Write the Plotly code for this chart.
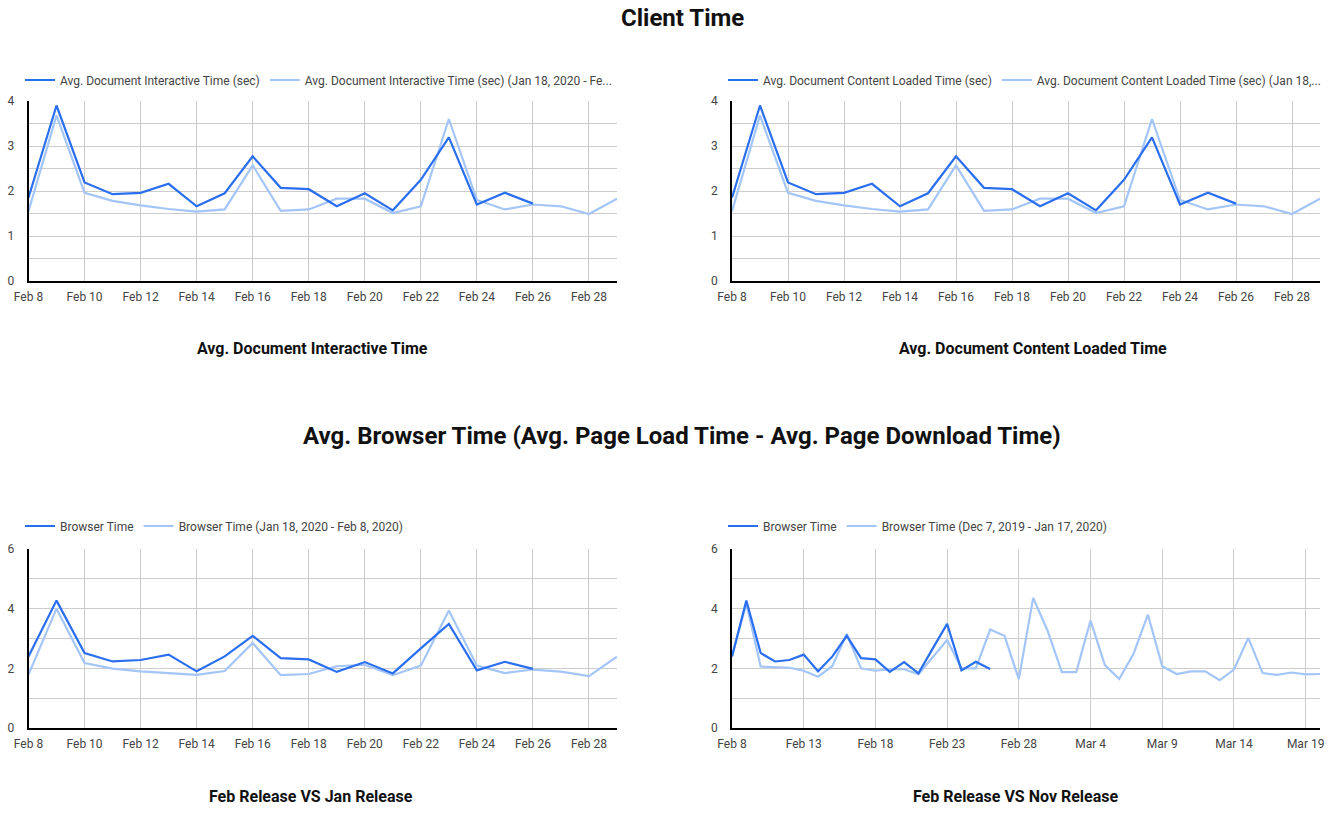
import pandas as pd
import plotly.graph_objects as go

# ---------------- data ----------------
start_date = "2020-02-08"

interactive_cur = [1.85, 3.90, 2.19, 1.93, 1.96, 2.16, 1.66, 1.95, 2.77, 2.07, 2.04,
                   1.66, 1.95, 1.57, 2.25, 3.19, 1.70, 1.96, 1.72]
interactive_prev = [1.55, 3.68, 1.96, 1.78, 1.68, 1.60, 1.54, 1.59, 2.57, 1.56, 1.59,
                    1.83, 1.83, 1.51, 1.66, 3.60, 1.80, 1.59, 1.70, 1.66, 1.49, 1.83]

dcl_cur = [1.85, 3.90, 2.19, 1.93, 1.96, 2.16, 1.66, 1.95, 2.77, 2.07, 2.04,
           1.66, 1.95, 1.57, 2.25, 3.19, 1.70, 1.96, 1.72]
dcl_prev = [1.55, 3.68, 1.96, 1.78, 1.68, 1.60, 1.54, 1.59, 2.57, 1.56, 1.59,
            1.83, 1.83, 1.51, 1.66, 3.60, 1.80, 1.59, 1.70, 1.66, 1.49, 1.83]

browser_cur = [2.40, 4.27, 2.51, 2.23, 2.28, 2.46, 1.90, 2.40, 3.09, 2.34, 2.30,
               1.88, 2.21, 1.83, 2.67, 3.49, 1.93, 2.22, 1.98]
browser_jan = [1.79, 4.00, 2.18, 1.99, 1.90, 1.84, 1.78, 1.91, 2.85, 1.77, 1.81,
               2.07, 2.12, 1.77, 2.09, 3.94, 2.09, 1.84, 1.96, 1.89, 1.74, 2.39]
browser_nov = [2.40, 4.17, 2.06, 2.03, 2.02, 1.92, 1.72, 2.08, 3.15, 2.00, 1.92,
               1.97, 1.97, 1.80, 2.39, 2.95, 2.00, 2.00, 3.30, 3.09, 1.64, 4.36,
               3.27, 1.87, 1.87, 3.60, 2.11, 1.64, 2.49, 3.80, 2.07, 1.81, 1.90,
               1.90, 1.60, 1.96, 3.02, 1.84, 1.78, 1.86, 1.80, 1.81]

legend_names = {
    1: ["Avg. Document Interactive Time (sec)",
        "Avg. Document Interactive Time (sec) (Jan 18, 2020 - Fe..."],
    2: ["Avg. Document Content Loaded Time (sec)",
        "Avg. Document Content Loaded Time (sec) (Jan 18,..."],
    3: ["Browser Time", "Browser Time (Jan 18, 2020 - Feb 8, 2020)"],
    4: ["Browser Time", "Browser Time (Dec 7, 2019 - Jan 17, 2020)"],
}

def dates(vals):
    return pd.date_range(start_date, periods=len(vals), freq="D")

DARK = "#2a6ff0"
LIGHT = "#a3c5f8"
FONT = "Roboto"

W, H = 1339, 820
def px(x):
    return x / W
def py(y):
    return 1 - y / H

fig = go.Figure()

panels = [
    (1, interactive_cur, interactive_prev, "x", "y", "legend"),
    (2, dcl_cur, dcl_prev, "x2", "y2", "legend2"),
    (3, browser_cur, browser_jan, "x3", "y3", "legend3"),
    (4, browser_cur, browser_nov, "x4", "y4", "legend4"),
]

for idx, cur, prev, xa, ya, lg in panels:
    fig.add_trace(go.Scatter(x=dates(prev), y=prev, mode="lines",
                             name=legend_names[idx][1],
                             line=dict(color=LIGHT, width=2.2),
                             xaxis=xa, yaxis=ya, legend=lg, legendrank=2))
    fig.add_trace(go.Scatter(x=dates(cur), y=cur, mode="lines",
                             name=legend_names[idx][0],
                             line=dict(color=DARK, width=2.2),
                             xaxis=xa, yaxis=ya, legend=lg, legendrank=1))

xl = [px(28.5), px(617)]
xr = [px(732), px(1320)]
yt = [py(281), py(101)]
yb = [py(728), py(549)]

day = 86400000

def xaxis(domain, anchor, rng, dt):
    return dict(domain=domain, anchor=anchor, type="date", range=rng,
                tick0=start_date, dtick=dt * day, tickformat="%b %-d",
                showgrid=True, gridcolor="#cccccc", gridwidth=1,
                showline=True, linecolor="#000000", linewidth=1.5,
                zeroline=False, ticks="", ticklabelstandoff=4,
                automargin=False,
                tickfont=dict(family=FONT, size=12, color="#444444"),
                fixedrange=True)

def yaxis(domain, anchor, rng, dt, mdt):
    return dict(domain=domain, anchor=anchor, range=rng, dtick=dt, tick0=0,
                showgrid=True, gridcolor="#cccccc", gridwidth=1,
                minor=dict(dtick=mdt, showgrid=True, gridcolor="#cccccc", gridwidth=1),
                showline=True, linecolor="#000000", linewidth=1.5,
                zeroline=False, ticks="", ticklabelstandoff=10,
                automargin=False,
                tickfont=dict(family=FONT, size=12, color="#444444"),
                fixedrange=True)

fig.update_layout(
    width=W, height=H,
    margin=dict(l=0, r=0, t=0, b=0, autoexpand=False),
    paper_bgcolor="white", plot_bgcolor="white",
    font=dict(family=FONT, size=12, color="#444444"),
    showlegend=True,
    xaxis=xaxis(xl, "y", ["2020-02-08", "2020-02-29"], 2),
    yaxis=yaxis(yt, "x", [0, 4], 1, 0.5),
    xaxis2=xaxis(xr, "y2", ["2020-02-08", "2020-02-29"], 2),
    yaxis2=yaxis(yt, "x2", [0, 4], 1, 0.5),
    xaxis3=xaxis(xl, "y3", ["2020-02-08", "2020-02-29"], 2),
    yaxis3=yaxis(yb, "x3", [0, 6], 2, 1),
    xaxis4=xaxis(xr, "y4", ["2020-02-08", "2020-03-20"], 5),
    yaxis4=yaxis(yb, "x4", [0, 6], 2, 1),
)

def legend_at(x, y):
    return dict(x=px(x), y=py(y), xanchor="left", yanchor="middle",
                orientation="h", bgcolor="rgba(0,0,0,0)",
                font=dict(family=FONT, size=12, color="#444444"),
                itemclick=False, itemdoubleclick=False, traceorder="normal")

fig.update_layout(
    legend=legend_at(20, 80),
    legend2=legend_at(723, 80),
    legend3=legend_at(20, 526),
    legend4=legend_at(723, 526),
)

titles = [
    ("Client Time", 682, 18, 24),
    ("Avg. Browser Time (Avg. Page Load Time - Avg. Page Download Time)", 682, 436, 24),
    ("Avg. Document Interactive Time", 312, 349, 16),
    ("Avg. Document Content Loaded Time", 1033, 349, 16),
    ("Feb Release VS Jan Release", 311, 796, 16),
    ("Feb Release VS Nov Release", 1016, 796, 16),
]
for text, x, y, size in titles:
    fig.add_annotation(text="<b>%s</b>" % text, x=px(x), y=py(y),
                       xref="paper", yref="paper", xanchor="center",
                       yanchor="middle", showarrow=False,
                       font=dict(family=FONT, size=size, color="#111111"))

fig.write_html("out.html")
